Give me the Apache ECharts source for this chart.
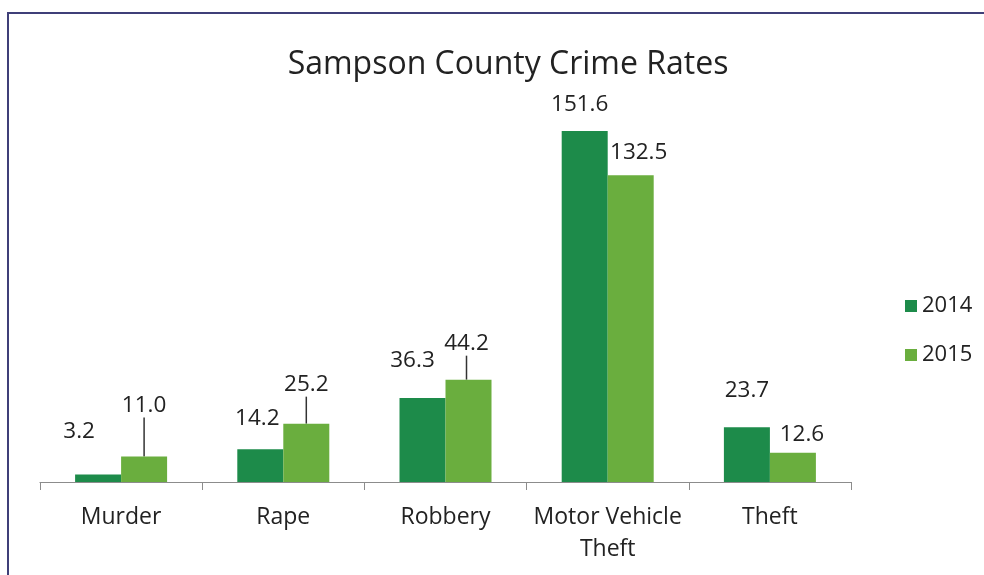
<!DOCTYPE html>
<html>
<head>
<meta charset="utf-8">
<script src="https://cdn.jsdelivr.net/npm/echarts@6/dist/echarts.min.js"></script>
<style>html,body{margin:0;padding:0;background:#fff}#c{width:984px;height:575px}</style>
</head>
<body>
<div id="c"></div>
<script>
const categories = ['Murder', 'Rape', 'Robbery', 'Motor Vehicle\nTheft', 'Theft'];
const seriesNames = ['2014', '2015'];
const values2014 = [3.2, 14.2, 36.3, 151.6, 23.7];
const values2015 = [11.0, 25.2, 44.2, 132.5, 12.6];

// label placement (styling only): offsets of label centre from bar top centre
const labelOffsets2014 = [[-19, -43], [-3, -31], [-10, -37], [-5, -26], [0, -37]];
const labelOffsets2015 = [[0, -51], [0, -39], [-2, -36], [8, -23], [9, -18]];
const leaderLines2015 = [true, true, true, false, false];

const FONT = 'Open Sans';
const chart = echarts.init(document.getElementById('c'));

function mkSeries(name, vals, color, offsets, leaders) {
  return {
    name: name,
    type: 'bar',
    barWidth: 46,
    barGap: '0%',
    itemStyle: { color: color },
    data: vals.map((v, i) => ({
      value: v,
      labelLine: { show: leaders ? leaders[i] : false }
    })),
    label: {
      show: true,
      position: 'top',
      distance: 0,
      fontFamily: FONT,
      fontSize: 22.5,
      lineHeight: 24,
      color: '#222',
      formatter: p => p.value.toFixed(1)
    },
    labelLine: { lineStyle: { color: '#333', width: 1.5 } },
    labelLayout: function (p) {
      const o = offsets[p.dataIndex];
      return { dx: o[0], dy: o[1] + 12 };
    }
  };
}

chart.setOption({
  animation: false,
  title: {
    text: 'Sampson County Crime Rates',
    left: 503,
    top: 39,
    textAlign: 'center',
    textStyle: { fontFamily: FONT, fontSize: 32, fontWeight: 'normal', color: '#222', lineHeight: 42 }
  },
  legend: {
    orient: 'vertical',
    left: 905,
    top: 294,
    padding: 0,
    itemWidth: 12,
    itemHeight: 12,
    itemGap: 25,
    icon: 'rect',
    data: seriesNames,
    textStyle: { fontFamily: FONT, fontSize: 22, lineHeight: 24, color: '#222' }
  },
  grid: { left: 40, right: 133, top: 111.6, bottom: 93, containLabel: false },
  xAxis: {
    type: 'category',
    data: categories,
    axisLine: { lineStyle: { color: '#8c8c8c', width: 1.2 } },
    axisTick: { show: true, length: 8, interval: 0, lineStyle: { color: '#8c8c8c' } },
    axisLabel: { fontFamily: FONT, fontSize: 23, lineHeight: 32, color: '#222', margin: 19, interval: 0 }
  },
  yAxis: { type: 'value', min: 0, max: 160, show: false, splitLine: { show: false } },
  graphic: [{
    type: 'rect',
    shape: { x: 8, y: 13, width: 1000, height: 620 },
    style: { fill: 'none', stroke: '#3f3f78', lineWidth: 2 },
    silent: true
  }],
  series: [
    mkSeries('2014', values2014, '#1d8b4a', labelOffsets2014, null),
    mkSeries('2015', values2015, '#6aae3e', labelOffsets2015, leaderLines2015)
  ]
});
</script>
</body>
</html>
